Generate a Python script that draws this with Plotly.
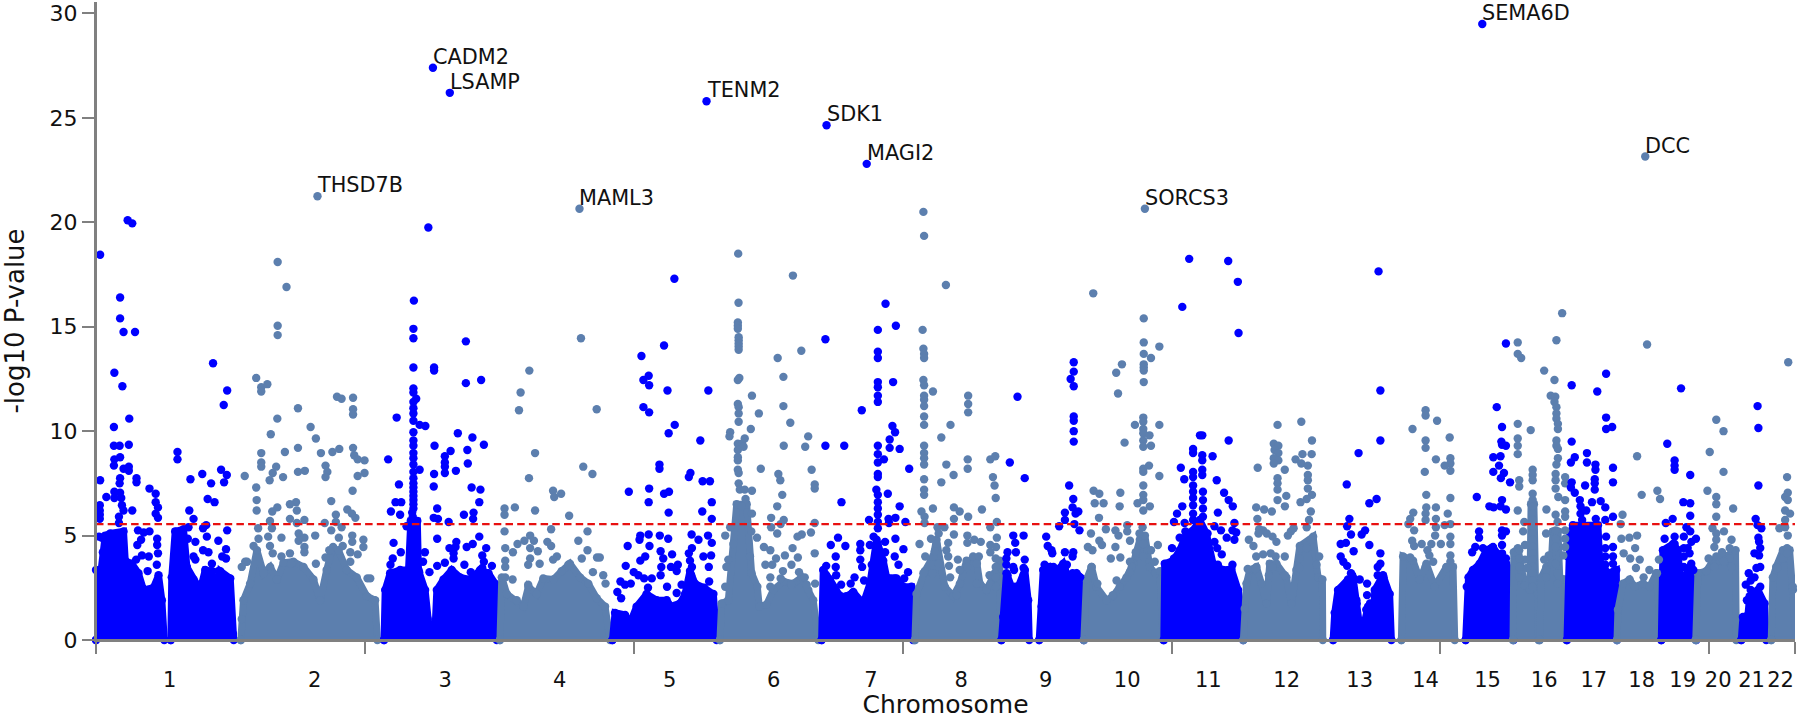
import plotly.graph_objects as go

BLUE = "#0000ff"
SLATE = "#5c7fae"
GREY = "#808080"
FONT = "DejaVu Sans"
THRESHOLD = 5.55
AXIS_END = 1480.5
Y_TOP = 30.55
TICK_MARKS = [0, 234.3, 468.6, 702.9, 937.2, 1171.5, 1405.8, 1480.5]

CHROMS = [str(i) for i in range(1, 23)]
CHROM_CENTERS = [64.3, 190.6, 304.3, 404, 500, 590.6, 675.3, 754, 827.6, 898.6, 969.2,
                 1037.6, 1101.2, 1158.6, 1212.6, 1261.9, 1305.2, 1346.9, 1382.6, 1413.6, 1442.6, 1467.9]

GENE_NAMES = ["CADM2", "LSAMP", "THSD7B", "MAML3", "TENM2", "SDK1", "MAGI2", "SORCS3", "SEMA6D", "DCC"]
GENE_POS = [293.6, 308.3, 193, 421.3, 532, 636.6, 671.6, 914, 1208, 1350]
GENE_P = [27.4, 26.2, 21.25, 20.65, 25.8, 24.65, 22.8, 20.65, 29.5, 23.15]
GENE_CHROM = [3, 3, 2, 4, 5, 7, 7, 10, 15, 18]

# Solid lower mass of each chromosome: outline (position, -log10 p).
MASS = {
 1: [[(0,0),(0,3.35),(3.7,3),(6,4.2),(8,5),(12.4,5.1),(24,5.2),(25.5,3.8),(31.3,3.65),(37,3.2),(41.4,2.4),(50,2.5),(54.5,3.1),(57.4,1.9),(59.5,0)],
     [(65.2,0),(66,3),(69,5.2),(76.3,5.3),(79.2,3.5),(85,2.9),(90.8,2.4),(95.2,3.35),(101,3.3),(103.9,2.2),(108.2,3.3),(117,2.95),(119.3,0.3),(120,0)]],
 2: [[(126.2,0),(127,1),(128.5,1.9),(134.3,2.7),(140.2,4.3),(146,3.2),(151.8,3.5),(157.6,2.9),(163.4,3.7),(172,3.75),(180.8,3.5),(189.5,2.9),(195.3,1.9),(201,3.35),(205.5,4.3),(211.3,4.3),(218.5,3.35),(227.2,3),(236,2.1),(243.2,1.9),(245.2,0)]],
 3: [[(251,0),(252,2.4),(256.3,3.2),(265,3.35),(272.3,3.35),(274.3,5.7),(280,5.7),(281,3.35),(286.8,2.4),(289,1),(290.6,0.4),(295.5,0.6),(297,2.4),(302.8,2.9),(310,3.35),(317.3,3),(326,2.9),(334.7,3.35),(342,3.2),(347.8,2.7),(349.2,0)]],
 4: [[(352,0),(353.6,3),(358,2.2),(366.6,1.9),(372.4,1.6),(376.8,2.55),(384,2.2),(389.8,2.95),(398.6,2.9),(405.8,3.3),(413,3.65),(421.8,3),(429,2.7),(436.3,2),(443.6,1.6),(448,0)]],
 5: [[(450,0),(452.3,1.3),(461,1.2),(465.3,0.8),(471.1,1.6),(479.8,2.2),(488.6,1.9),(497.3,1.9),(500,1.6),(508.9,1.75),(513.3,2.2),(517.6,3.3),(522,2.7),(530,2.5),(538,2.2),(540.8,0)]],
 6: [[(543.7,0),(545.2,1.75),(551,1.9),(555.4,4.6),(558.3,6.5),(567,6.5),(569.9,4),(571.3,3.2),(576.3,2.55),(578,1.6),(584.4,1.7),(590.2,2.4),(599,2.8),(607.6,2.7),(614.9,3),(620.7,2.4),(625,1.9),(629.4,0)]],
 7: [[(632.3,0),(633.7,3.35),(639.5,2.9),(648.3,2.1),(654,2.1),(659.9,2.3),(668.6,1.75),(674.4,2.7),(680.2,4.8),(686,3.8),(689,3),(697.6,2.95),(703.4,2.55),(710.6,2.55),(712,0)]],
 8: [[(713.6,0),(715,2.2),(722.3,3.3),(729.5,4),(732.4,4.8),(739.7,2.55),(747,2.1),(752.8,2.7),(758.6,3.8),(767.3,3.8),(770.2,2.7),(776,2.4),(783.3,3.2),(787.6,3.8),(788.5,0)]],
 9: [[(789,0),(790.5,1.1),(793.4,3.2),(797.8,2.55),(803.6,2.55),(809.4,3.35),(812.3,1.9),(813.2,0)],
     [(821.9,0),(824,1.6),(825.4,3.35),(831.2,3.5),(835.5,3.2),(842.8,3.65),(847.2,2.95),(854.4,3.2),(860.2,2.9),(860.8,0)]],
 10: [[(860.8,0),(863.1,2.9),(867.5,3.5),(871.8,2.55),(880.5,1.9),(886.3,2.1),(892.1,2.55),(898,3),(903.8,3.65),(909.6,4.8),(914,5),(918.3,3.5),(923,3.2),(927,3.3),(929.9,0)]],
 11: [[(930.5,0),(931.3,3.65),(938.6,3.8),(944.4,4.3),(950.2,5.1),(956,5.25),(961.8,5.75),(967.6,5.1),(973.4,3.65),(982,3.35),(989.4,3.4),(995.2,2.4),(999,1.3),(999.6,0)]],
 12: [[(999.8,0),(1001,1.5),(1002.5,2.7),(1005.4,3.35),(1011.2,3.5),(1015.6,2.7),(1019.9,1.75),(1022.8,3.65),(1028.6,3.65),(1037.3,3),(1041.7,1.75),(1046,3.35),(1049,4.5),(1060.6,4.95),(1064.9,3),(1068.7,2.9),(1069,0)]],
 13: [[(1078,0),(1079.4,1.3),(1082.3,2.4),(1091,2.9),(1095.4,3),(1098.3,1.9),(1101.2,0.65),(1104,0.55),(1108.5,1.6),(1112.8,0.65),(1114.3,2.4),(1121.5,3.1),(1127.3,2.2),(1128.8,0)]],
 14: [[(1137.5,0),(1139,4),(1147.7,3.8),(1153.5,2.9),(1159.3,3.65),(1166.5,2.55),(1176.7,3.5),(1182.5,3.5),(1184,0)]],
 15: [[(1193.5,0),(1194.5,2.55),(1196,3),(1199.9,3.35),(1205.7,3.65),(1211.5,4.3),(1217.3,4.45),(1223.1,4),(1228.9,3.65),(1234.7,3),(1235.3,0)]],
 16: [[(1234.8,0),(1235.5,4.2),(1239,4.4),(1245,2.6),(1249.5,2.4),(1250.5,6.5),(1253,6.5),(1254.5,2.5),(1256.5,2.2),(1257,0)],
      [(1258,0),(1259.5,3),(1263.8,3.5),(1268.2,3.7),(1269.6,5.2),(1274,5.2),(1275.5,3),(1279.8,2.9),(1281.2,0)]],
 17: [[(1281.8,0),(1282.7,4),(1284.2,4.95),(1287,5.5),(1308.8,5.5),(1310.3,3.8),(1317.5,3.2),(1324.8,3.35),(1325.4,0)]],
 18: [[(1325.4,0),(1326.2,1.45),(1330.6,2.7),(1336.4,2.9),(1340.8,2.55),(1348,2.7),(1353.8,2.55),(1359.6,3.2),(1364,0)]],
 19: [[(1364,0),(1365.4,4.3),(1374.2,4.6),(1378.5,4.3),(1380,3.2),(1384.3,3),(1390.1,3.65),(1393.9,2.55),(1394.5,0)]],
 20: [[(1394,0),(1395.9,3.2),(1403.2,3.3),(1409,3.8),(1414.8,3.8),(1420.6,4),(1428.7,4.3),(1429.3,0)]],
 21: [[(1433.7,0),(1435.1,1.1),(1439.5,1.2),(1441,2.1),(1448.2,2.4),(1454,1.75),(1455.4,0)]],
 22: [[(1459.8,0),(1461.2,3),(1464.1,3.5),(1470,4.3),(1475.8,4.3),(1478.7,2.4),(1481,1.1),(1481.6,0)]],
}

# Individual points above the mass: (position, -log10 p).
SPOTS = {
 1: [(3.6,18.45),(27.6,20.1),(31.6,19.95),(21,16.4),(21,15.4),(24,14.75),(34,14.75),(16,12.8),(23,12.15),(29,10.6),(15.6,10.2),(15.6,9.3),(20.6,9.3),(28.6,9.35),(16,8.65),(21,8.75),(15.6,8.35),(24,8.2),(28.6,8.3),(28.6,8.1),(21,7.75),(20.6,7.5),(35.3,7.75),(35.3,7.55),(3.6,7.65),(9,6.85),(16,7.1),(16,6.8),(21,7.05),(22,6.8),(22.6,6.45),(24,6.2),(31.6,6.2),(3.3,6.45),(3.3,6.2),(3.3,6),(3.3,5.8),(20,5.9),(20,5.6),(46.6,7.25),(52,7),(52,6.6),(54,6.35),(52,6.05),(54,5.85),(36.6,5.25),(41.6,5.15),(46.6,5.2),(39.3,4.8),(53.3,4.85),(53.3,4.55),(36,4.55),(54,4.15),(40,4.05),(46,4),(35,3.85),(53,3.6),(2.6,4.95),(5,4.9),(45,3.3),
     (71,9),(71,8.65),(82.3,7.7),(92.6,7.95),(102,13.25),(114.3,11.95),(111.3,11.25),(109,8.15),(114,7.9),(111.6,7.55),(100.3,7.5),(97.3,6.75),(103.3,6.6),(81.3,6.2),(85,5.8),(96,5.5),(80.6,5.4),(93.3,5.35),(114.3,5.25),(80,4.85),(86.6,4.7),(96.6,4.95),(106.6,4.75),(113.3,4.35),(93.3,4.3),(85,4),(98,4.2),(110,4),(113.3,3.9),(101,3.65),(86.6,3.85),(106.6,3.3),(98,3)],
 2: [(158.3,18.1),(166,16.9),(158.3,15.05),(158.3,14.6),(139.6,12.55),(144,12.1),(144,11.9),(149.3,12.25),(176,11.1),(158,10.6),(187,10.2),(191.6,9.65),(152.3,9.85),(176,9.2),(212,9.15),(224,9.2),(144,8.95),(164.6,9),(196,8.95),(206,9),(210,11.65),(214,11.55),(224,11.6),(224,11.05),(224,10.8),(225,8.85),(228,8.65),(234,8.6),(144,8.5),(144,8.3),(157,8.3),(154,8),(163,7.8),(151.3,7.65),(129.6,7.85),(176,8.05),(182,8.1),(200,8.35),(201.6,8.05),(200,7.8),(228,7.85),(234,8),(139.6,7.3),(223.6,7.15),(140,6.7),(140,6.2),(205,6.65),(174.3,6.6),(169,6.5),(158,6.35),(153.6,6.15),(175,6.2),(219,6.25),(223,6.05),(209,6),(226,5.85),(169,5.8),(181.6,5.75),(151.6,5.7),(199.3,5.6),(209,5.65),(175,5.6),(141.3,5.35),(153.3,5.35),(214,5.4),(205,5.25),(223.3,5),(150,4.95),(161.6,4.9),(176.6,5.1),(181.6,4.9),(191,5),(211.6,4.9),(233,4.8),(223.3,4.7),(141.6,4.85),(137.3,4.5),(151.6,4.5),(176.6,4.75),(181.6,4.45),(206.6,4.45),(215,4.5),(233,4.45),(203.3,4.3),(181.6,4.2),(221.6,4.2),(228,4.1),(154,4.15),(169,4.15),(161.6,4),(200,3.95),(191.6,3.65),(221.6,3.75),(130,3.75),(131.6,3.75),(127,3.5),(170,3.65),(236.6,2.95),(239,2.95)],
 3: [(289.6,19.75),(277,16.25),(276.6,14.9),(276.6,14.45),(276.6,13.05),(276.6,12.05),(276.6,11.85),(279,11.55),(276.6,11.4),(276.6,11.1),(276.6,10.85),(276.6,10.5),(282,10.3),(287,10.25),(276.6,9.95),(276.6,9.55),(276.6,9.3),(276.6,8.95),(276.6,8.7),(276.6,8.4),(282,8.15),(276.6,8.05),(276.6,7.75),(276.6,7.5),(276.6,7.3),(276.6,7.1),(276.6,6.9),(276.6,6.7),(276.6,6.5),(276.6,6.3),(275.5,6.1),(276,5.9),(276.6,5.7),
     (262,10.65),(254.6,8.65),(264,7.45),(261,6.6),(266,6.6),(257,6.15),(265,6),(270.6,5.45),(259.3,4.65),(265.6,4.2),(294.6,13.05),(294.6,12.9),(322.3,14.3),(322.3,12.3),(335.6,12.45),(295,9.3),(315.3,9.9),(309,9.05),(304,8.8),(323.6,9.1),(328,9.7),(338,9.35),(304,8.5),(304,8.3),(324,8.45),(294.6,7.95),(304,8),(313.6,8.1),(294.3,7.35),(327.3,7.3),(335,7.2),(334,6.6),(297.3,6.3),(320.6,6),(329,6.1),(294.3,5.85),(298,5.8),(328.6,5.8),(307.3,5.65),(297.3,4.85),(334,4.95),(314,4.7),(328.3,4.6),(323,4.45),(308,4.4),(313.3,4.45),(340,4.4),(311.6,4.15),(336.6,4.05),(286.6,4.2),(285,3.75),(304,3.7),(297.3,3.55),(311.6,3.9),(338,3.75),(345,3.55),(321,3.6),(326.6,3.25),(336.6,3.45),(290.6,3.25),(281.6,3.25),(265,3.2),(256.6,3.6),(258.6,3.9),(341.6,3)],
 4: [(422.6,14.45),(377.6,12.9),(370,11.85),(368.6,11),(436.3,11.05),(382.6,8.95),(424.6,8.3),(432.6,7.95),(377.3,7.75),(398.3,7.15),(399.3,6.85),(405.3,7),(365,6.35),(382.6,6.2),(356,6.3),(356,6),(412.3,5.95),(396.6,5.3),(428.3,5.2),(356,5.2),(420.3,4.75),(378.3,5),(373.3,4.75),(381.6,4.75),(367.3,4.6),(393.3,4.7),(396.6,4.5),(356.6,4.4),(363.3,4.2),(378.3,4.4),(385,4.25),(428.3,4.3),(423.3,3.9),(401.6,4),(436.6,3.95),(378.3,3.9),(386.6,3.65),(398.3,3.85),(356.6,3.8),(356.6,3.5),(376.6,3.6),(411.6,3.6),(433,3.25),(363,2.9),(356.6,3),(376.6,2.65),(439,3.95),(442,3.1),(444,2.7)],
 5: [(504,17.3),(475.3,13.6),(495,14.1),(477,12.45),(481.6,12.65),(482,12.2),(498,11.95),(533.6,11.95),(477,11.15),(482,10.9),(504.3,10.3),(499,9.9),(526.6,9.55),(491,8.4),(491,8.2),(518,8),(516.6,7.8),(528.6,7.6),(535,7.6),(464.3,7.1),(482,7.25),(495,7),(499.3,7.1),(481.6,6.6),(536.6,6.6),(499,6.1),(528.3,6.15),(536.6,5.8),(481.6,5.05),(474.3,5),(473.6,4.8),(491.3,5),(498.6,4.85),(519,5.05),(525,4.8),(533.3,5),(536.6,4.65),(463.3,4.5),(482.3,4.5),(492,4.25),(502,4.1),(519.3,4.4),(516.6,4.15),(478.6,4),(474.3,3.8),(494.3,3.9),(461.6,3.55),(529.3,4),(536,4.05),(507,3.6),(501,3.5),(492.6,3.5),(517.6,3.8),(534,3.5),(519.3,3.5),(468.6,3.25),(472.6,3.1),(506,3.3),(477.6,2.95),(484.3,2.95),(492,3.1),(518.6,3.1),(534.3,2.8),(457,2.8),(466,2.7),(510.3,2.65),(454.3,2.3),(461,2.65),(481,2.5),(497.6,2.55),(506,2.25),(498.6,1.75),(457.6,2)],
 6: [(559.6,18.5),(607.3,17.45),(559.9,16.15),(559.3,15.2),(559.3,15.05),(559.3,14.9),(560,14.5),(560,14.35),(560,14.2),(560,14.05),(560,13.9),(560.6,12.55),(559.3,12.45),(559.3,11.3),(560,11.15),(560,10.85),(560,10.45),(552.6,9.95),(552,9.75),(565.3,9.65),(559.3,9.4),(563,9.4),(564.3,9.25),(559.3,9.1),(559.3,8.75),(559.3,8.6),(559.3,8.15),(560,8),(560,7.5),(561,7.2),(565.3,7.2),(571.6,7.15),(566,6.75),(571.6,6.05),(562.6,6.4),(571.6,11.7),(577.6,10.85),(570.6,10.1),(579.3,8.2),(552.6,5.4),(548.3,5),(571,5.2),(576,4.9),
     (594,13.5),(599,12.6),(614.6,13.85),(599,11.2),(605,10.4),(620.6,9.75),(618,9.25),(599.3,9.3),(594.6,7.95),(596.3,7.65),(623.6,8.15),(626.3,7.45),(626.3,7.25),(598,6.95),(593.6,6.4),(588.3,5.85),(599.3,5.75),(588.3,5.4),(596.6,5.55),(593.6,5.1),(626.3,5.6),(623,5.15),(615,5.05),(611.3,4.95),(582,4.45),(587.6,4.3),(607,4.4),(592.6,3.9),(600.3,4.05),(611.6,3.95),(626.3,4.15),(583.3,3.6),(589.3,3.6),(606,3.6),(598.6,3.3),(612.6,3.25),(617.6,3),(596.6,2.95),(587.6,3),(626.6,2.7),(606,2.65),(619.3,2.65),(587.6,2.55),(549.3,3.5),(551,3.85),(548.3,2.55)],
 7: [(688,16.1),(697,15.05),(681.3,14.85),(681.3,13.8),(681.3,13.5),(694.6,12.35),(681.3,12.35),(681.3,12.1),(681.3,11.7),(681.3,11.4),(667.3,11),(694,10.25),(696.3,9.95),(691.6,9.6),(691.6,9.2),(700.3,9.15),(681.3,9.3),(681.3,8.9),(686.6,8.65),(681.3,8.5),(708.6,8.2),(681.3,7.95),(681.3,7.8),(635.6,14.4),(635.6,9.3),(652,9.3),(649.6,6.6),(680,7.2),(690,7),(681.3,6.95),(681.3,6.6),(700.3,6.4),(681.3,6.3),(681.3,6),(690.6,5.8),(696.6,5.85),(673.6,5.75),(691,5.6),(705.3,5.65),(681.3,5.65),(681.3,5.35),(646.6,4.9),(640.3,4.55),(653,4.5),(666,4.6),(666,4.3),(677.6,4.95),(696.6,4.85),(674.3,4.55),(681,4.6),(687.6,4.7),(703.6,4.35),(687.6,4.2),(666,3.85),(644.6,4),(696,4),(681,4.05),(667.6,3.5),(636.3,3.55),(644.6,3.5),(676,3.6),(699.3,3.6),(684.3,3.65),(707.6,3.25),(645,3.1),(636,3.1),(661,3),(669.3,2.85),(704.3,2.95),(649.3,2.65),(657.6,2.7),(696,2.95),(647.6,2.15),(659.3,2.25)],
 8: [(721,20.5),(721.6,19.35),(740.6,17),(720.3,14.85),(721,13.95),(721.6,13.7),(721.6,13.5),(721,12.45),(721.6,12.2),(729.3,11.9),(721.6,11.7),(721.6,11.5),(721.6,11.2),(721.6,10.7),(721.6,10.3),(721.6,9.3),(721.6,8.95),(721.6,8.7),(721.6,8.4),(721.6,7.7),(721.6,7.2),(721.6,6.95),(719.3,6.15),(729.3,6.3),(722,5.9),(722,5.6),(717.6,4.6),
     (760,11.7),(760,11.3),(760,10.9),(744.6,10.3),(736.6,9.7),(741,8.4),(747.3,7.9),(736.6,7.55),(759.6,8.65),(759.6,8.2),(779.3,8.65),(783.6,8.8),(781.6,7.8),(783,7.4),(784,6.8),(772,6.25),(747.6,6.35),(752.6,6.15),(760,5.9),(747.6,5.8),(785,5.65),(779.3,5.4),(739.3,5.4),(733.3,5.4),(734.3,5.1),(747.6,5.05),(759.3,5),(785,4.9),(765.3,4.8),(771,4.7),(742.6,4.65),(727.6,4.85),(732.3,4.6),(759.3,4.65),(779.3,4.55),(784.3,4.45),(741,4.3),(731,4.25),(779.3,4.2),(764.3,4),(769.3,4),(722.6,4),(751,3.85),(742.6,4),(767.6,3.65),(784,3.9),(734.3,3.65),(743.3,3.55),(784,3.5),(759.3,3.5),(752.6,3.35),(729,3.2),(721,3.2),(778.6,3.1),(744.3,3),(784,3),(767.6,2.7),(779.3,2.65),(784.3,2.55),(750,2.15)],
 9: [(803,11.65),(796.3,8.5),(809.3,7.75),(799.3,5),(808.3,5),(801,4.65),(794.3,4.2),(801.6,4.2),(793.3,3.9),(809.3,3.85),(793.3,3.6),(799.3,3.5),(808.3,3.45),(794.3,3.1),(808.3,3.1),(800,3.35),(808.3,2.8),(794.3,2.8),(794.3,2.45),(801,2.55),(808.3,2.45),
     (852,13.3),(852,12.85),(849.3,12.5),(852,12.15),(852,10.7),(852,10.5),(852,10),(852,9.5),(848,7.4),(851.6,6.75),(851,6.35),(856,6.15),(853.6,6.05),(844.3,6.1),(844.3,5.75),(839.3,5.45),(852.6,5.55),(857,5.25),(828,4.95),(829.3,4.5),(832.6,4.3),(833.3,4.15),(844.3,4.2),(851.6,4.2),(851,4),(826.6,3.6),(834.3,3.5),(846,3.6),(844.3,3.35),(851,3.2),(857.6,3),(826.6,3.2),(837.6,3.1)],
 10: [(869,16.6),(913,15.4),(913,14.25),(913,13.7),(926.6,14.05),(919.3,13.5),(913,13.2),(913,13.05),(913,12.9),(913,12.35),(894,13.2),(889,12.8),(890.6,11.8),(912.6,10.65),(912.6,10.45),(905.3,10.3),(926.6,10.3),(912.6,10.1),(912.6,9.9),(918,9.8),(912.6,9.55),(896.3,9.45),(912.6,9.25),(919.3,9.3),(917.6,8.35),(912.6,8.2),(912.6,8.05),(926.6,7.85),(912.6,7.4),(912.6,6.95),(892.6,7.05),(869.3,7.15),(874.3,7),(870.3,6.55),(878,6.55),(892,6.4),(907.6,6.55),(912.6,6.7),(918.3,6.4),(912.6,6.2),(874,5.85),(880,5.3),(867,5.1),(888.3,5.25),(898.6,5.5),(898.6,5.2),(891,5),(912,5.4),(909.3,5.1),(901,4.75),(874.3,4.75),(876.6,4.55),(864.3,4.45),(868.3,4.3),(888.3,4.45),(912.6,4.6),(925.3,4.55),(919.3,4.3),(906,4.2),(884.3,3.9),(892.6,3.95),(901,3.75),(867.6,3.5),(912.6,4),(902.6,3.5),(922.6,3.75),(889.3,2.85),(901,3.25),(872.6,2.7),(886,2.15)],
 11: [(952.6,18.25),(986.6,18.15),(995,17.15),(946.6,15.95),(995.6,14.7),(962,9.8),(956,9.15),(956,8.95),(945.3,8.25),(956,8.05),(956,7.8),(948.3,7.7),(956,7.4),(956,7.1),(956,6.8),(956,6.45),(946.6,6.4),(942,6.05),(939.3,5.65),(948.6,5.6),(956,6.05),(956,5.75),(944.3,4.9),(949.3,5.2),(937.6,4.4),(947.6,4.3),(939.3,3.9),(947.6,3.85),
      (964,9.8),(964,8.85),(964,8.6),(973,8.8),(987,9.55),(964,8.15),(964,7.9),(976.6,7.65),(964.6,7.1),(983,7.05),(987,6.7),(990.6,6.4),(964.6,6.7),(977.6,6.1),(964.6,6.3),(992,5.6),(964.6,5.9),(974.6,5.45),(980.3,5.25),(990.3,5.25),(993.6,5.15),(992,4.8),(985.3,4.9),(974.6,4.7),(968.6,5.1),(977,4.4),(981,4.1),(968.6,4),(977.6,3.6),(990.3,3.6),(971.3,3.35),(988.6,3.25),(982,2.25),(977,2.8)],
 12: [(1029.6,10.3),(1050.3,10.45),(1059.6,9.55),(1026.3,9.4),(1030.3,9.3),(1027,9.1),(1030.3,8.95),(1026.3,8.7),(1030.3,8.6),(1026.3,8.45),(1045.3,8.65),(1051.3,8.9),(1059.3,8.9),(1050.3,8.45),(1056,8.35),(1012.3,8.25),(1035.9,8.15),(1056,7.9),(1029.6,7.75),(1056,7.65),(1029.6,7.5),(1029.6,7.2),(1056,7.25),(1037.2,6.9),(1059.6,6.95),(1029.6,6.7),(1036,6.4),(1049.6,6.6),(1055,6.75),(1011,6.35),(1017.9,6.25),(1024.6,6.15),(1058.6,6.15),(1012,5.8),(1057,5.75),(1055,5.4),(1043.6,5.35),(1013.6,5.3),(1017,5.25),(1013,5.1),(1020.2,5.1),(1041.2,5.2),(1038.6,5),(1025.2,4.95),(1028.6,4.7),(1004.6,4.8),(1008.6,4.5),(1058.6,4.8),(1049.2,4.4),(1055,4.4),(1011,4),(1017,4.1),(1023.6,4.15),(1035.9,4),(1027.9,4),(1065.9,4),(1048.6,3.9),(1063.6,3.6),(1025.2,3.5),(1003.6,3.4),(1010.2,3.4),(1048.6,3.45),(1022,3.1),(1035.9,3.1)],
 13: [(1117.6,17.65),(1119.2,11.95),(1119.2,9.55),(1100.2,8.95),(1089.9,7.45),(1109.6,6.55),(1115.9,6.75),(1092.2,5.8),(1090.2,5.45),(1105.9,5.25),(1102.9,5.05),(1093.6,5.05),(1089.2,4.65),(1084.6,4.6),(1109.6,4.55),(1095.9,4.25),(1119.2,4.15),(1084.6,4),(1086.9,3.75),(1090.2,3.55),(1119.2,3.65),(1116.9,3.5),(1093.6,3.2),(1116.9,3.1),(1091.9,2.8),(1101.2,2.9),(1107.6,2.7),(1121.9,3),(1107.6,2.15),(1110.2,1.75),(1098.6,1.75),(1106.9,1.45),(1108.6,0.95)],
 14: [(1158.6,11),(1158.6,10.75),(1168.6,10.5),(1147.2,10.1),(1179.6,9.7),(1158.6,9.55),(1158.6,9.2),(1167.6,8.65),(1180.2,8.7),(1180.2,8.45),(1175.2,8.35),(1180.2,8.1),(1157.9,8.05),(1159.2,6.95),(1180.2,6.8),(1159.2,6.35),(1167.6,6.35),(1147.9,6.1),(1145.2,5.8),(1177.9,6.05),(1158.6,6.05),(1167.6,5.8),(1143.6,5.55),(1158.6,5.75),(1148.6,5.25),(1175.2,5.5),(1180.2,5.55),(1167.6,5.4),(1180.2,4.95),(1166.9,5),(1146.9,4.75),(1155.2,4.6),(1148.6,4.5),(1163.6,4.6),(1171.9,4.6),(1180.2,4.6),(1160.2,4.3),(1161.9,4.05),(1180.2,4.05),(1180.2,3.75),(1145.2,3.95),(1165.2,3.75),(1158.6,3.5),(1176.9,3.45)],
 15: [(1220.6,11.15),(1225.2,10.2),(1228.6,14.2),(1224.6,9.5),(1225.2,9.35),(1228.6,9.3),(1217.6,8.75),(1223.9,8.8),(1222.6,8.35),(1217.6,8.05),(1226.9,8),(1224.2,7.75),(1232.2,7.55),(1203.2,6.85),(1225.2,6.7),(1214.2,6.4),(1217.9,6.35),(1223.9,6.4),(1228.6,6.25),(1225.2,5.25),(1228.6,5.2),(1225.2,5),(1205.2,5.2),(1205.2,4.9),(1201.9,4.45),(1199.2,4.2),(1208.6,4.4),(1215.9,4.4),(1225.2,4.55),(1216.9,4.05),(1225.2,4.15),(1228.6,3.6),(1228.6,3.9)],
 16: [(1238.9,14.25),(1238.9,13.7),(1241.9,13.5),(1238.9,10.35),(1238.9,9.65),(1238.9,9.3),(1238.9,8.9),(1250.2,10.05),(1251.9,8.15),(1251.9,7.9),(1251.9,7.65),(1240.2,7.65),(1240.2,7.35),(1251.9,7),(1251.9,6.7),(1251.9,6.4),(1238.9,6.2),(1251.9,6.05),(1251.9,5.75),(1244.6,5.65),(1251.9,5.4),(1243.6,5.2),(1251.9,5.1),(1251.9,4.8),(1245.2,4.55),(1251.9,4.45),(1240.2,4.3),(1251.9,4.15),(1251.9,3.85),(1245.2,3.85),(1240.2,3.9),(1251.9,3.5),(1247,3.45),(1251.9,3.2),(1240.2,3.5),(1251.9,2.85),(1240.2,3),(1251.9,2.55),
      (1277.6,15.65),(1272.6,14.35),(1261.9,12.9),(1270.9,12.45),(1267.6,11.7),(1271.6,11.65),(1270.9,11.4),(1272.6,11.15),(1272.6,10.85),(1272.6,10.6),(1273.9,10.35),(1273.9,10.1),(1272.6,9.55),(1272.6,9.3),(1273.9,9.15),(1273.9,8.7),(1272.6,8.4),(1271.9,7.95),(1271.9,7.65),(1280.2,7.8),(1280.2,7.5),(1271.9,7.25),(1274.2,6.85),(1280.2,6.7),(1263.9,6.25),(1280.2,6.15),(1280.2,5.9),(1271.9,6),(1273.6,5.65),(1263.6,5.1),(1271.9,5.25),(1280.2,5.25),(1271.9,4.85),(1280.2,4.85),(1271.9,4.45),(1280.2,4.45),(1278.6,4.05),(1265.9,4.05),(1261.9,3.85),(1271.9,3.65),(1263.6,3.35),(1273.6,3.2),(1263.6,3),(1273.6,2.7)],
 17: [(1285.9,12.2),(1315.9,12.75),(1308.2,11.9),(1315.9,10.65),(1315.9,10.1),(1321.2,10.2),(1285.9,9.5),(1299.2,8.95),(1299.2,8.5),(1288.6,8.75),(1285.2,8.5),(1306.6,8.4),(1306.6,8.15),(1321.9,8.25),(1321.9,7.55),(1285.9,7.55),(1306,7.7),(1306,7.5),(1297.6,7.4),(1285.2,7.3),(1288.6,7.05),(1306,7.2),(1293,6.7),(1293.6,6.4),(1303.6,6.6),(1311.2,6.65),(1315.2,6.35),(1293.6,6.05),(1298.6,6.2),(1321.9,5.9),(1306.9,5.8),(1315.2,5.75),(1295,5.75),(1315.9,4.95),(1315.2,4.4),(1321.9,4.45),(1321.9,4),(1315.2,4),(1315.2,3.6),(1321.9,3.65),(1315.2,3.2),(1321.9,3.25),(1315.2,2.8)],
 18: [(1351.6,14.15),(1342.9,8.8),(1346.9,6.95),(1360.6,7.15),(1362.9,6.75),(1330.2,6),(1328.6,5.55),(1329.2,4.85),(1336.2,4.9),(1342.9,5),(1341.2,4.4),(1331.2,4.15),(1336.9,3.9),(1345.2,3.85),(1361.9,3.85),(1341.9,3.45),(1353.6,3.35),(1348.6,3),(1360.2,3.2)],
 19: [(1381.2,12.05),(1369.2,9.4),(1375.6,8.6),(1375.6,8.35),(1375.6,8.15),(1389.2,7.9),(1383.2,6.6),(1389.2,6.55),(1389.2,5.95),(1373.9,5.8),(1367.9,5.6),(1385.9,5.4),(1389.2,5.2),(1394.2,4.85),(1366.9,4.85),(1375.6,4.95),(1383.6,4.95),(1375.6,4.6),(1390.2,4.7),(1383.6,4.4),(1387,4.4),(1375.6,4.4),(1383.6,4),(1388.6,4.15),(1383.6,3.5),(1391.9,3.35)],
 20: [(1411.9,10.55),(1418.2,10),(1406.2,9),(1418.2,8.05),(1404.2,7.15),(1411.9,6.85),(1411.9,6.5),(1426.6,6.3),(1411.9,5.9),(1408.6,5.35),(1418.6,5.2),(1425.2,4.8),(1411.9,5.1),(1411.9,4.8),(1410.2,4.45),(1423.6,4.4),(1416.9,4.2),(1405.2,3.9),(1423.6,3.9),(1411.9,4),(1418.6,3.75),(1410.2,3.5),(1425.2,3.5)],
 21: [(1447.9,11.2),(1448.6,10.15),(1448.6,7.4),(1446.2,5.8),(1447.9,5.5),(1451.2,5.35),(1448.6,4.9),(1449.2,4.7),(1450.2,4.4),(1445.2,4.15),(1449.2,4.05),(1450.2,3.5),(1446.9,3.45),(1440.2,3.2),(1437.6,2.65),(1441.9,2.85),(1445.2,3),(1441.9,2.4),(1450.2,2.55),(1443.6,2.15),(1438.6,1.9)],
 22: [(1474.6,13.3),(1473.6,7.8),(1474.2,7.05),(1471.9,6.85),(1474.2,6.7),(1471.9,6.2),(1476.2,6.05),(1471.9,5.75),(1466.9,5.35),(1471.9,5.4),(1474.2,5),(1473.6,4.4),(1470.2,3.9),(1473.6,4.15),(1465.2,3.45),(1478.6,2.55)],
}

fig = go.Figure()

def colour(chrom):
    return BLUE if chrom % 2 else SLATE

for chrom, parts in MASS.items():
    for part in parts:
        # the path returns to its start along the baseline, so the mass overhangs the axis as the dots do
        closed = part + [part[0]]
        fig.add_trace(go.Scatter(
            x=[p[0] for p in closed], y=[p[1] for p in closed],
            mode="lines+markers", fill="tozeroy", fillcolor=colour(chrom),
            line=dict(color=colour(chrom), width=7),
            marker=dict(size=8.4, color=colour(chrom)),
            cliponaxis=False, showlegend=False, hoverinfo="skip"))

for chrom, pts in SPOTS.items():
    xs = [p[0] for p in pts] + [x for x, c in zip(GENE_POS, GENE_CHROM) if c == chrom]
    ys = [p[1] for p in pts] + [y for y, c in zip(GENE_P, GENE_CHROM) if c == chrom]
    fig.add_trace(go.Scatter(
        x=xs, y=ys, mode="markers", name="chr" + str(chrom),
        marker=dict(size=8.4, color=colour(chrom), line=dict(width=0)),
        cliponaxis=False, showlegend=False))

fig.add_trace(go.Scatter(
    x=[0, AXIS_END], y=[THRESHOLD, THRESHOLD], mode="lines",
    line=dict(color="#e81010", width=2.3, dash="7.5px,4.2px"),
    cliponaxis=False, showlegend=False, hoverinfo="skip"))

for name, x, y in zip(GENE_NAMES, GENE_POS, GENE_P):
    fig.add_annotation(x=x, y=y, text=name, showarrow=False, xanchor="left", yanchor="bottom",
                       xshift=-2, yshift=-3, font=dict(family=FONT, size=20.8, color="#111111"))

# Axis lines stay visible on top of the marks, as in the reference.
fig.add_shape(type="line", xref="x", yref="y", x0=0, x1=AXIS_END, y0=0, y1=0,
              line=dict(color=GREY, width=2), layer="above")
fig.add_shape(type="line", xref="x", yref="y", x0=0, x1=0, y0=0, y1=Y_TOP,
              line=dict(color=GREY, width=2), layer="above")

fig.update_layout(
    width=1800, height=719,
    margin=dict(l=95.7, r=4.5, t=1.7, b=79, pad=0),
    paper_bgcolor="white", plot_bgcolor="white",
    font=dict(family=FONT, color="#111111"),
    xaxis=dict(
        range=[0, AXIS_END], showgrid=False, zeroline=False,
        showline=True, linecolor=GREY, linewidth=2,
        tickmode="array", tickvals=CHROM_CENTERS, ticktext=CHROMS,
        ticks="outside", ticklen=20, tickcolor="rgba(0,0,0,0)", tickangle=0,
        tickfont=dict(family=FONT, size=21, color="#111111"),
        minor=dict(tickmode="array", tickvals=TICK_MARKS, ticks="outside", ticklen=12,
                   tickcolor=GREY, tickwidth=2, showgrid=False),
        title=dict(text="Chromosome", standoff=8, font=dict(family=FONT, size=25, color="#111111")),
    ),
    yaxis=dict(
        range=[0, Y_TOP], showgrid=False, zeroline=False,
        showline=True, linecolor=GREY, linewidth=2,
        tickmode="array", tickvals=[0, 5, 10, 15, 20, 25, 30],
        ticks="outside", ticklen=12, tickcolor=GREY, tickwidth=2,
        tickfont=dict(family=FONT, size=22, color="#111111"),
        title=dict(text="-log10 P-value", standoff=18, font=dict(family=FONT, size=26, color="#111111")),
    ),
)

fig.write_html("out.html", config={"displayModeBar": False},
               post_script="document.body.style.margin='0';")
